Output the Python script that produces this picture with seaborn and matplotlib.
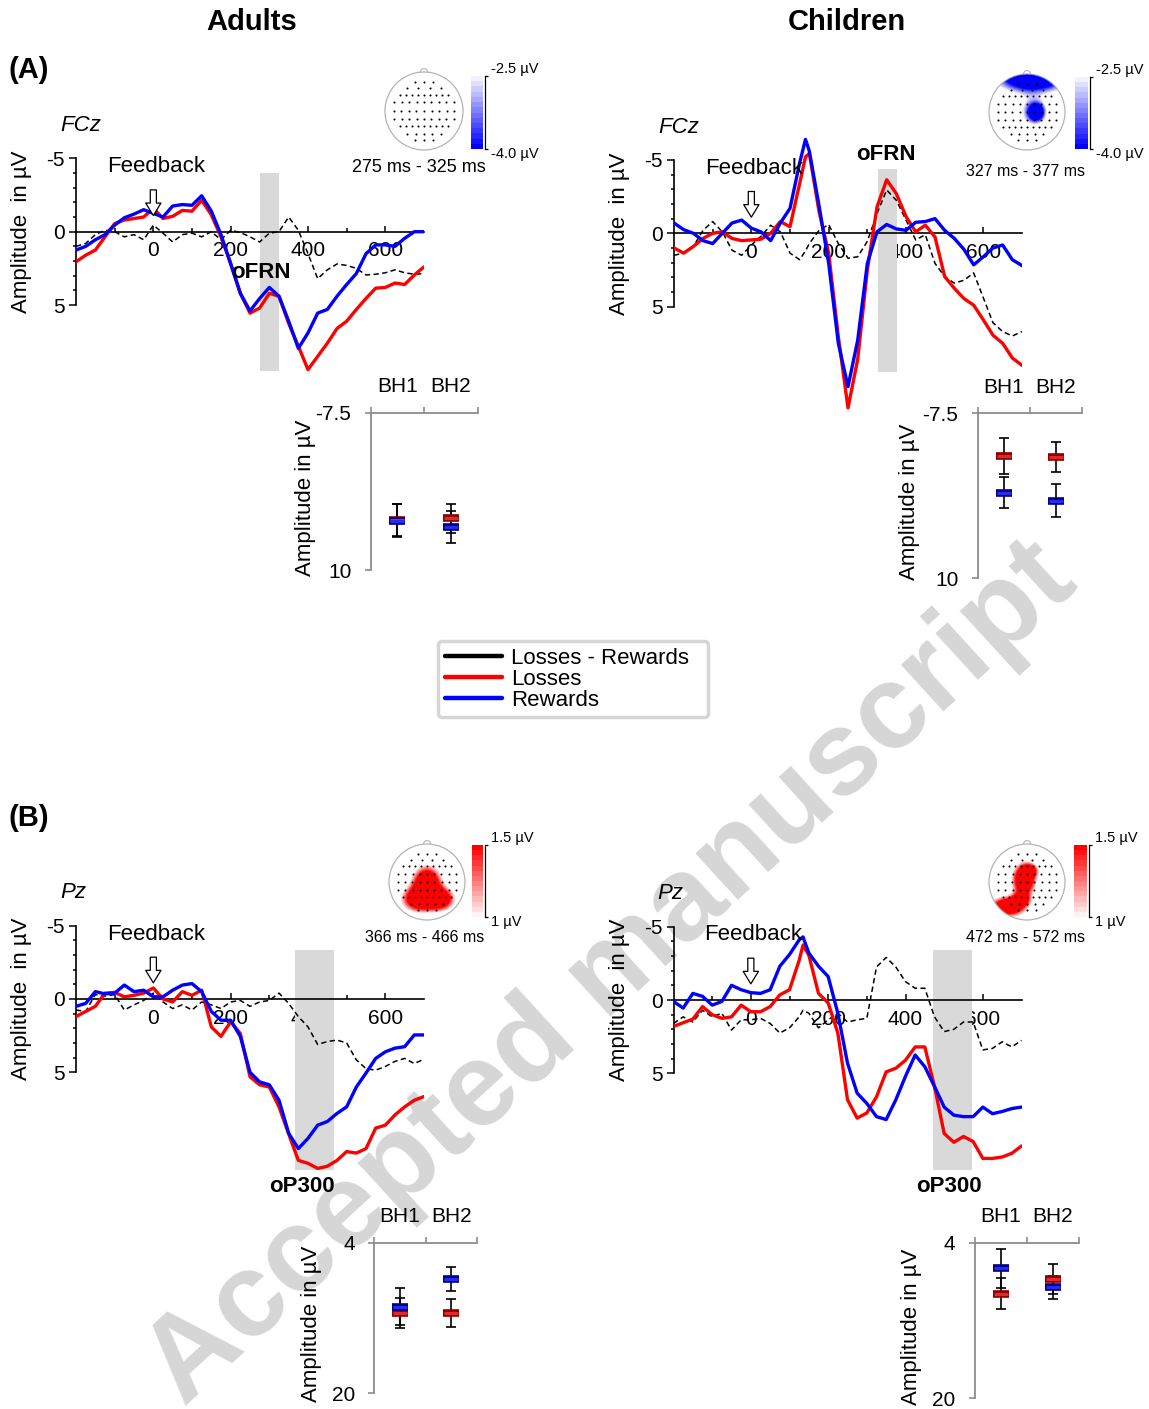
import numpy as np
import matplotlib
matplotlib.use('Agg')
import matplotlib.pyplot as plt
import seaborn as sns
from matplotlib.lines import Line2D
from matplotlib.patches import Circle
from matplotlib.colors import LinearSegmentedColormap, to_rgb

sns.set_style('white')
plt.rcParams['font.family'] = ['Liberation Sans', 'DejaVu Sans']
plt.rcParams['axes.unicode_minus'] = False
plt.rcParams['text.color'] = 'black'
plt.rcParams['xtick.color'] = 'black'
plt.rcParams['ytick.color'] = 'black'
plt.rcParams['axes.labelcolor'] = 'black'

W, H = 1149, 1409
RED, BLUE = '#ff0000', '#0000ff'

# ---------------- ERP data (time in ms, amplitude in µV) ----------------
t_adult = list(range(-200, 701, 25))
t_child_a = list(range(-200, 126, 25)) + [140] + list(range(150, 701, 25))
t_child_b = list(range(-200, 126, 25)) + [135] + list(range(150, 701, 25))

adult_a_losses = [2.05, 1.6, 1.25, 0.35, -0.55, -0.8, -0.9, -1.0, -1.6, -0.9, -1.05, -1.45, -1.4,
                  -2.15, -1.15, 0.35, 2.15, 4.2, 5.55, 5.2, 4.2, 4.4, 6.25, 7.8, 9.4, 8.5, 7.6, 6.6,
                  6.1, 5.3, 4.55, 3.85, 3.8, 3.5, 3.6, 2.95, 2.4]
adult_a_rewards = [1.25, 1.0, 0.55, 0.2, -0.45, -0.95, -1.2, -1.5, -1.25, -1.0, -1.75, -1.85, -1.8,
                   -2.45, -1.4, 0.2, 2.2, 4.2, 5.4, 4.55, 3.8, 4.4, 6.1, 7.95, 6.9, 5.55, 5.3, 4.4,
                   3.6, 2.85, 1.5, 0.9, 0.9, 1.0, 0.45, 0.0, 0.0]
adult_a_diff = [1.0, 0.8, 0.2, -0.1, 0.0, 0.35, 0.2, 0.55, -0.45, 0.1, 0.7, 0.2, 0.1, 0.35, 0.0,
                0.55, -0.1, 0.05, 0.35, 0.7, 0.1, 0.0, -1.0, -0.1, 1.5, 3.2, 2.6, 2.2, 2.3, 2.5,
                2.95, 2.9, 2.8, 2.6, 2.8, 2.9, 2.85]

child_a_losses = [1.0, 1.35, 0.9, 0.35, 0.0, -0.1, 0.35, 0.5, 0.45, 0.4, 0.0, -0.8, -0.45, -3.4,
                  -5.2, -5.45, -1.5, 1.35, 7.05, 11.9, 8.6, 2.5, -1.8, -3.65, -2.7, -1.15, -0.1,
                  -0.55, 0.25, 2.95, 3.75, 4.45, 4.9, 5.9, 6.95, 7.5, 8.5, 9.0]
child_a_rewards = [-0.7, -0.25, 0.0, 0.5, 0.7, 0.0, -0.7, -0.9, -0.35, -0.1, 0.5, -0.7, -1.7, -4.8,
                   -6.4, -5.6, -1.9, 2.05, 7.5, 10.45, 7.3, 2.05, -0.1, -0.6, -0.3, -0.2, -0.75,
                   -0.8, -1.0, -0.2, 0.35, 1.1, 2.15, 1.6, 1.0, 0.8, 1.8, 2.2]
child_a_diff = [1.5, 1.35, 0.9, -0.2, -0.8, -0.1, 1.15, 1.5, 0.8, 0.2, -0.55, -0.1, 1.35, 1.8, 1.2,
                0.7, -0.2, -0.6, 0.7, 1.7, 1.6, 0.55, -1.35, -2.95, -2.25, -0.9, 0.45, 0.1, 2.05,
                2.95, 3.4, 3.2, 2.7, 4.4, 6.1, 6.7, 7.0, 6.7]

adult_b_losses = [1.2, 0.85, 0.5, -0.4, -0.45, -0.15, -0.25, -0.4, -0.75, 0.0, 0.2, -0.5, -0.25,
                  -0.6, 1.9, 2.55, 1.55, 2.35, 5.3, 5.85, 6.0, 7.35, 9.2, 11.0, 11.2, 11.55, 11.4,
                  11.0, 10.4, 10.5, 10.2, 8.8, 8.6, 7.9, 7.35, 6.9, 6.65]
adult_b_rewards = [0.5, 0.3, -0.5, -0.35, -0.4, -0.95, -0.5, -0.6, -0.15, -0.15, -0.6, -0.95,
                   -1.05, -0.5, 0.85, 1.45, 1.45, 2.55, 5.0, 5.65, 5.85, 6.9, 9.15, 10.2, 9.5, 8.6,
                   8.35, 7.8, 7.35, 6.0, 5.05, 4.05, 3.6, 3.35, 3.25, 2.45, 2.45]
adult_b_diff = [0.75, 0.85, -0.3, -0.2, -0.3, 0.75, 0.4, 0.1, -0.4, 0.2, 0.65, 0.4, 0.75, 0.2, 0.4,
                0.65, 0.2, 0.1, 0.5, 0.2, 0.1, -0.4, 0.3, 1.2, 1.9, 3.1, 2.9, 2.8, 3.0, 4.15, 4.75,
                4.85, 4.6, 4.25, 4.05, 4.4, 4.1]

child_b_losses = [1.8, 1.55, 1.3, 0.45, 1.0, 1.25, 1.15, 0.35, 0.8, 0.8, 0.45, -0.35, -0.7, -2.7,
                  -3.75, -3.05, -0.45, 0.2, 2.25, 6.8, 8.05, 7.7, 6.6, 4.9, 4.65, 4.1, 3.2, 3.2,
                  5.9, 9.1, 9.7, 9.3, 9.65, 10.8, 10.8, 10.7, 10.45, 9.95]
child_b_rewards = [0.1, 0.55, -0.45, -0.25, 0.35, 0.1, -1.0, -0.7, -0.5, -0.45, -0.7, -2.3, -3.1,
                   -4.1, -4.3, -3.2, -2.3, -1.6, 0.9, 4.3, 6.35, 7.05, 7.95, 8.15, 6.8, 5.2, 3.75,
                   4.55, 5.9, 7.3, 7.85, 7.95, 7.95, 7.3, 7.75, 7.6, 7.4, 7.3]
child_b_diff = [1.6, 1.15, 1.5, 0.7, 1.15, 0.9, 2.05, 1.35, 1.35, 1.25, 1.6, 2.25, 1.9, 1.15, 0.7,
                0.9, 1.9, 1.35, 0.9, 1.5, 1.35, 1.25, -2.25, -2.9, -2.25, -1.25, -0.8, -0.8, 1.15,
                2.15, 2.0, 1.5, 1.5, 3.4, 3.3, 2.85, 3.2, 2.75]

# ---------------- BH1 / BH2 means and errors ----------------
bh_labels = ['BH1', 'BH2']
bh_adult_a_losses, bh_adult_a_losses_err = [4.45, 4.25], [1.8, 1.6]
bh_adult_a_rewards, bh_adult_a_rewards_err = [4.5, 5.25], [1.8, 1.8]
bh_child_a_losses, bh_child_a_losses_err = [-2.95, -2.9], [1.9, 1.6]
bh_child_a_rewards, bh_child_a_rewards_err = [0.9, 1.8], [1.65, 1.75]
bh_adult_b_losses, bh_adult_b_losses_err = [11.5, 11.5], [1.6, 1.5]
bh_adult_b_rewards, bh_adult_b_rewards_err = [10.8, 7.85], [1.95, 1.25]
bh_child_b_losses, bh_child_b_losses_err = [9.25, 7.75], [1.6, 1.55]
bh_child_b_rewards, bh_child_b_rewards_err = [6.65, 8.6], [2.0, 1.2]

# ---------------- scalp map blobs: (x, y, sx, sy, amp) in head units ----------------
topo_adult_a = []
topo_child_a = [(0.15, 1.0, 0.6, 0.3, 1.6), (0.27, 0.0, 0.14, 0.16, 1.0), (0.12, 0.0, 0.22, 0.26, 0.5)]
topo_adult_b = [(0.0, 0.0, 0.25, 0.28, 1.2), (-0.2, -0.45, 0.3, 0.22, 1.2), (0.35, -0.45, 0.25, 0.2, 1.1)]
topo_child_b = [(-0.08, 0.05, 0.2, 0.28, 1.3), (0.08, 0.3, 0.14, 0.12, 0.8),
                (-0.5, -0.65, 0.3, 0.17, 1.3), (-0.15, -0.45, 0.15, 0.12, 0.8)]

# electrode rows: (y, count, half width)
elec_rows = [(0.75, 3, 0.23), (0.59, 4, 0.43), (0.42, 9, 0.62), (0.22, 9, 0.76), (0.0, 9, 0.77),
             (-0.21, 9, 0.76), (-0.39, 9, 0.62), (-0.58, 5, 0.43), (-0.74, 3, 0.23)]

fig = plt.figure(figsize=(W / 100, H / 100), dpi=100)


def rect(x0, y0, x1, y1):
    return [x0 / W, 1 - y1 / H, (x1 - x0) / W, (y1 - y0) / H]


def ftext(x, y, s, **kw):
    kw.setdefault('ha', 'left')
    kw.setdefault('va', 'center')
    fig.text(x / W, 1 - y / H, s, **kw)


def erp_panel(x_left, y_zero, t, losses, rewards, diff, win, win_y, chan):
    ppu = 14.67
    top, bot = -7.5, 13.0
    ax = fig.add_axes(rect(x_left, y_zero + top * ppu, x_left + 348, y_zero + bot * ppu))
    ax.set_facecolor('none')
    ax.fill_between(win, win_y[0], win_y[1], color='#d9d9d9', lw=0, zorder=1)
    sns.lineplot(x=t, y=diff, ax=ax, color='black', lw=1.1, linestyle=(0, (3.5, 2.2)),
                 estimator=None, sort=False, zorder=3)
    sns.lineplot(x=t, y=losses, ax=ax, color=RED, lw=2.4, estimator=None, sort=False, zorder=4)
    sns.lineplot(x=t, y=rewards, ax=ax, color=BLUE, lw=2.4, estimator=None, sort=False, zorder=5)
    ax.set_xlim(-200, 700)
    ax.set_ylim(bot, top)
    for s in ['top', 'right']:
        ax.spines[s].set_visible(False)
    ax.spines['left'].set_bounds(-5, 5)
    ax.spines['bottom'].set_position(('data', 0))
    for s in ['left', 'bottom']:
        ax.spines[s].set_color('black')
        ax.spines[s].set_linewidth(1.2)
    ax.set_xticks([0, 200, 400, 600])
    ax.set_xticks([-100, 100, 300, 500], minor=True)
    ax.set_yticks([-5, 0, 5])
    ax.set_yticks([-4, -3, -2, -1, 1, 2, 3, 4], minor=True)
    ax.tick_params(axis='x', which='major', direction='in', length=4, width=1.1, pad=7, labelsize=15)
    ax.tick_params(axis='x', which='minor', direction='in', length=3, width=1.1)
    ax.tick_params(axis='y', which='major', direction='out', length=5, width=1.1, pad=3, labelsize=15)
    ax.tick_params(axis='y', which='minor', direction='out', length=2.5, width=1.1)
    ax.tick_params(bottom=True, left=True, which='both')
    ax.set_xlabel('')
    ax.set_ylabel('')
    ax.annotate('', xy=(0, -1.1), xytext=(0, -2.85),
                arrowprops=dict(arrowstyle='simple,head_width=0.55,head_length=0.45,tail_width=0.22',
                                fc='white', ec='black', lw=0.9, mutation_scale=20, shrinkA=0, shrinkB=0),
                zorder=6)
    ftext(x_left - 16, y_zero - 106, chan, fontsize=16, style='italic')
    ftext(x_left + 31, y_zero - 65, 'Feedback', fontsize=16)
    ftext(x_left - 54, y_zero, 'Amplitude  in µV', fontsize=16, rotation=90, ha='center')
    return ax


def bh_panel(x0, x1, ytop, ybot, lims, losses, losses_err, rewards, rewards_err, label_x):
    ax = fig.add_axes(rect(x0, ytop, x1, ybot))
    ax.set_facecolor('none')
    xs = [0.5, 1.5]
    for vals, errs, dark, mid in [(losses, losses_err, '#8e0000', '#e02a2a'),
                                  (rewards, rewards_err, '#00008e', '#2a2ae8')]:
        ax.errorbar(xs, vals, yerr=errs, fmt='none', ecolor='black', elinewidth=1.2,
                    capsize=3.6, capthick=1.2, zorder=3)
        ax.plot(xs, vals, ls='none', marker='_', ms=11, mew=5.5, color=dark, zorder=4)
        ax.plot(xs, vals, ls='none', marker='_', ms=9.5, mew=2.2, color=mid, zorder=5)
    ax.set_xlim(0, 2)
    ax.set_ylim(lims[1], lims[0])
    for s in ['bottom', 'right']:
        ax.spines[s].set_visible(False)
    for s in ['left', 'top']:
        ax.spines[s].set_color('#8c8c8c')
        ax.spines[s].set_linewidth(1.3)
    ax.xaxis.set_ticks_position('top')
    ax.set_xticks([0, 1, 2])
    ax.set_xticklabels([])
    ax.set_xticks(xs, minor=True)
    ax.set_xticklabels(bh_labels, minor=True)
    ax.tick_params(axis='x', which='major', direction='out', length=4, width=1.2, color='#8c8c8c')
    ax.tick_params(axis='x', which='minor', length=0, pad=12, labelsize=15)
    ax.set_yticks([lims[0], lims[1]])
    ax.set_yticklabels([f'{lims[0]:g}', f'{lims[1]:g}'])
    ax.tick_params(axis='y', direction='out', length=4, width=1.2, color='#8c8c8c', pad=10, labelsize=15)
    ax.tick_params(left=True, top=True, which='both')
    ftext(label_x, (ytop + ybot) / 2 + 6, 'Amplitude in µV', fontsize=16, rotation=90, ha='center')
    return ax


def topo_map(cx, cy, r, blobs, color):
    s = 1.2 * r
    ax = fig.add_axes(rect(cx - s, cy - s, cx + s, cy + s))
    ax.axis('off')
    g = np.linspace(-1, 1, 241)
    xx, yy = np.meshgrid(g, g)
    field = np.zeros_like(xx)
    for bx, by, sx, sy, amp in blobs:
        field += amp * np.exp(-0.5 * ((xx - bx) / sx) ** 2 - 0.5 * ((yy - by) / sy) ** 2)
    alpha = np.clip((field - 0.3) / 0.4, 0, 1)
    alpha[xx ** 2 + yy ** 2 > 0.985] = 0
    rgba = np.zeros(xx.shape + (4,))
    rgba[..., :3] = to_rgb(color)
    rgba[..., 3] = alpha
    ax.add_patch(Circle((0, 1.0), 0.09, fc='white', ec='#b4b4b4', lw=0.8, zorder=1))
    ax.add_patch(Circle((0, 0), 1, fc='white', ec='#b4b4b4', lw=0.9, zorder=2))
    ax.imshow(rgba, extent=(-1, 1, -1, 1), origin='lower', zorder=3, interpolation='bilinear')
    ex, ey = [], []
    for yrow, n, hw in elec_rows:
        for xv in np.linspace(-hw, hw, n):
            ex.append(xv)
            ey.append(yrow)
    ax.scatter(ex, ey, s=2.2, c='black', linewidths=0, zorder=4)
    ax.set_xlim(-1.2, 1.2)
    ax.set_ylim(-1.2, 1.2)
    ax.set_aspect('equal')


def color_bar(x0, y0, x1, y1, colors, top_lab, bot_lab):
    ax = fig.add_axes(rect(x0, y0, x1, y1))
    grad = np.linspace(0, 1, 14).reshape(-1, 1)
    cmap = LinearSegmentedColormap.from_list('cb', colors)
    ax.imshow(grad, cmap=cmap, aspect='auto', origin='lower', extent=(0, 1, 0, 1),
              interpolation='nearest')
    for s in ['top', 'left', 'bottom']:
        ax.spines[s].set_visible(False)
    ax.spines['right'].set_position(('outward', 1.5))
    ax.spines['right'].set_linewidth(0.9)
    ax.spines['right'].set_color('black')
    ax.set_xticks([])
    ax.yaxis.tick_right()
    ax.set_yticks([0, 1])
    ax.set_yticklabels([])
    ax.tick_params(axis='y', direction='out', length=2.5, width=0.9, right=True)
    ftext(x1 + 8, y0 - 7, top_lab, fontsize=10.5)
    ftext(x1 + 8, y1 + 5, bot_lab, fontsize=10.5)


# watermark (behind everything)
fig.text(612 / W, 1 - 975 / H, 'Accepted manuscript', rotation=42.5, rotation_mode='anchor',
         ha='center', va='center', fontsize=86, fontweight='bold', color='#d6d6d6', zorder=-5)

# titles
ftext(252, 22, 'Adults', fontsize=21, fontweight='bold', ha='center')
ftext(847, 22, 'Children', fontsize=21, fontweight='bold', ha='center')
ftext(8, 70, '(A)', fontsize=21, fontweight='bold')
ftext(8, 818, '(B)', fontsize=21, fontweight='bold')

# ERP panels
erp_panel(76, 231.7, t_adult, adult_a_losses, adult_a_rewards, adult_a_diff, [275, 325], (-4.0, 9.5), 'FCz')
erp_panel(674, 233.3, t_child_a, child_a_losses, child_a_rewards, child_a_diff, [327, 377], (-4.4, 9.45), 'FCz')
erp_panel(76, 999, t_adult, adult_b_losses, adult_b_rewards, adult_b_diff, [366, 466], (-3.35, 11.65), 'Pz')
erp_panel(673.5, 1000, t_child_b, child_b_losses, child_b_rewards, child_b_diff, [472, 572], (-3.4, 11.6), 'Pz')

ftext(261, 272, 'oFRN', fontsize=16, fontweight='bold', ha='center')
ftext(886, 154, 'oFRN', fontsize=16, fontweight='bold', ha='center')
ftext(302, 1187, 'oP300', fontsize=16, fontweight='bold', ha='center')
ftext(949, 1187, 'oP300', fontsize=16, fontweight='bold', ha='center')

# BH panels
bh_panel(370.7, 477.7, 412.7, 570, (-7.5, 10), bh_adult_a_losses, bh_adult_a_losses_err,
         bh_adult_a_rewards, bh_adult_a_rewards_err, 305)
bh_panel(977.7, 1081.7, 413.3, 578.3, (-7.5, 10), bh_child_a_losses, bh_child_a_losses_err,
         bh_child_a_rewards, bh_child_a_rewards_err, 910)
bh_panel(374.3, 476.7, 1242.7, 1393.3, (4, 20), bh_adult_b_losses, bh_adult_b_losses_err,
         bh_adult_b_rewards, bh_adult_b_rewards_err, 312)
bh_panel(975, 1079, 1242.7, 1398.3, (4, 20), bh_child_b_losses, bh_child_b_losses_err,
         bh_child_b_rewards, bh_child_b_rewards_err, 911)

# scalp maps and colour bars
topo_map(424, 111, 39, topo_adult_a, BLUE)
topo_map(1027, 112, 38, topo_child_a, BLUE)
topo_map(427, 882, 38, topo_adult_b, RED)
topo_map(1027, 882, 38, topo_child_b, RED)

color_bar(471, 76, 483, 149, ['#0000ff', '#f2f2ff'], '-2.5 µV', '-4.0 µV')
color_bar(1075, 77, 1088, 149, ['#0000ff', '#f2f2ff'], '-2.5 µV', '-4.0 µV')
color_bar(472, 845, 483, 917, ['#fff2f2', '#ff0000'], '1.5 µV', '1 µV')
color_bar(1074, 845, 1087, 917, ['#fff2f2', '#ff0000'], '1.5 µV', '1 µV')

ftext(419, 168, '275 ms - 325 ms', fontsize=13, ha='center')
ftext(1026, 171, '327 ms - 377 ms', fontsize=11.5, ha='center')
ftext(425, 938, '366 ms - 466 ms', fontsize=11.5, ha='center')
ftext(1026, 937, '472 ms - 572 ms', fontsize=11.5, ha='center')

# legend
handles = [Line2D([], [], color='black', lw=3.2), Line2D([], [], color=RED, lw=3.2),
           Line2D([], [], color=BLUE, lw=3.2)]
leg = fig.legend(handles, ['Losses - Rewards  ', 'Losses', 'Rewards'], loc='upper left',
                 bbox_to_anchor=(438 / W, 1 - 641 / H), fontsize=16, handlelength=2.6,
                 handletextpad=0.4, labelspacing=0.0, borderpad=0.3, borderaxespad=0,
                 frameon=True, fancybox=True, framealpha=1, edgecolor='#d6d6d6')
leg.get_frame().set_linewidth(2.5)

fig.savefig('out.png', dpi=100, facecolor='white')
